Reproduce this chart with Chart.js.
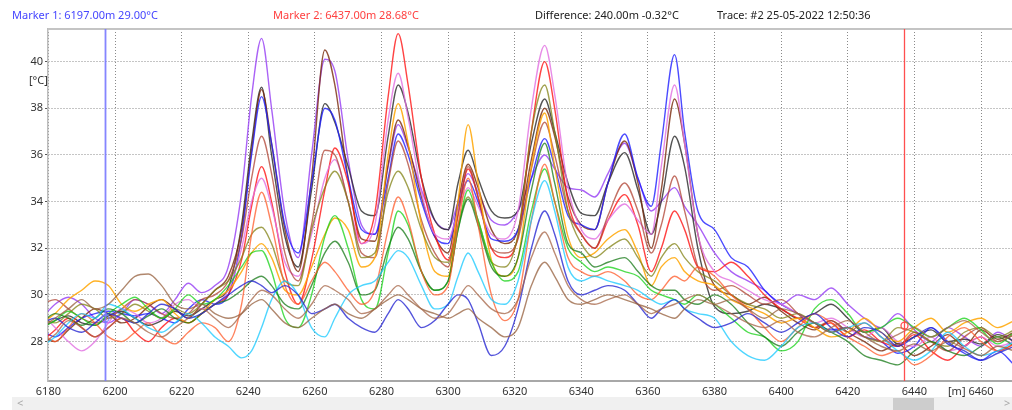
<!DOCTYPE html>
<html>
<head>
<meta charset="utf-8">
<script src="https://cdn.jsdelivr.net/npm/chart.js@4/dist/chart.umd.min.js"></script>
<style>
  html,body{margin:0;padding:0;background:#fff;width:1012px;height:410px;overflow:hidden;font-family:'Noto Sans',sans-serif;}
  #wrap{position:relative;width:1012px;height:410px;}
  #c{position:absolute;left:0;top:0;}
  .hdr{position:absolute;top:8px;font-size:11px;white-space:nowrap;line-height:14px;}
  .unit{position:absolute;font-size:11px;color:#333;white-space:nowrap;line-height:14px;}
  #sb{position:absolute;left:12px;top:397px;width:1000px;height:13px;background:#f0f0f0;}
  #thumb{position:absolute;left:893px;top:398px;width:41px;height:12px;background:#cdcdcd;}
  .arr{position:absolute;top:396px;font-size:11px;color:#a8a8a8;line-height:14px;}
</style>
</head>
<body>
<div id="wrap">
  <canvas id="c" width="1012" height="397"></canvas>
  <div class="hdr" id="h1" style="left:12px;color:#4646ff"></div>
  <div class="hdr" id="h2" style="left:273px;color:#ff4040"></div>
  <div class="hdr" id="h3" style="left:535px;color:#222"></div>
  <div class="hdr" id="h4" style="left:717px;color:#222"></div>
  <div class="unit" style="left:29px;top:73px;">[°C]</div>
  <div class="unit" style="left:948px;top:384px;">[m]</div>
  <div id="sb"></div>
  <div id="thumb"></div>
  <div class="arr" style="left:17px;">&lt;</div>
  <div class="arr" style="left:1004px;">&gt;</div>
</div>
<script>
// ---- data ----
const X = [
  6178,6182,6186,6190,6194,6198,6202,6206,6210,6214,6218,6222,
  6226,6230,6234,6238,6241,6244,6247,6251,6255,6259,6263,6266,
  6270,6274,6278,6282,6285,6288,6292,6296,6300,6303,6306,6309,
  6313,6317,6321,6325,6329,6332,6336,6340,6344,6348,6353,6357,
  6361,6364,6368,6371,6375,6380,6385,6390,6395,6400,6405,6410,
  6415,6420,6425,6430,6435,6440,6445,6450,6455,6460,6465,6470];

const X_TICKS = [6180,6200,6220,6240,6260,6280,6300,6320,6340,6360,6380,6400,6420,6440,6460];
const Y_TICKS = [28,30,32,34,36,38,40];

const MARKER_X = [6197, 6437];
const MARKER_T = [29.00, 28.68];
const TRACE = '#2 25-05-2022 12:50:36';

const purple = [
  29.0,29.6,29.9,29.6,29.0,28.8,29.2,29.8,29.6,29.2,29.8,30.5,
  30.1,30.4,31.2,34.4,38.5,41.0,38.0,33.5,31.6,36.0,40.1,39.6,
  35.8,33.0,32.6,35.5,37.3,36.3,34.5,33.2,32.8,34.0,35.2,34.4,
  33.2,33.0,33.6,35.0,36.0,35.4,34.6,34.5,34.2,35.2,36.5,35.0,
  33.6,34.0,34.6,33.8,33.0,31.8,31.0,30.6,30.2,29.6,30.0,29.8,
  30.3,29.6,29.0,28.6,29.2,28.5,28.0,28.6,28.2,27.8,28.4,28.0];
const black = [
  28.6,28.9,29.1,28.8,28.7,29.1,29.3,29.0,28.7,28.9,29.3,29.1,
  29.4,29.8,30.3,33.0,36.5,38.9,36.0,32.5,31.2,34.5,38.2,37.4,
  35.5,33.6,33.4,36.8,39.0,37.8,35.0,33.2,32.8,34.8,36.2,35.0,
  33.6,33.3,33.6,36.5,38.4,37.0,34.8,33.5,33.4,34.8,36.1,34.5,
  32.6,34.0,36.8,35.5,32.0,29.5,29.2,29.3,29.6,29.4,29.0,29.2,
  29.6,29.0,28.4,28.6,27.9,28.2,28.5,28.0,28.1,27.9,28.3,28.0];
const darkBrown = [
  28.2,28.0,28.5,29.0,29.4,29.2,28.8,29.0,29.5,29.8,29.4,29.0,
  29.6,30.2,30.8,32.8,36.2,38.8,36.5,32.8,31.0,35.0,40.5,39.0,
  35.0,32.4,32.3,35.6,37.5,36.4,34.2,32.5,31.8,34.0,35.6,34.6,
  32.8,32.2,32.8,35.8,38.0,36.8,34.2,33.0,32.8,34.8,36.6,34.8,
  32.0,34.5,38.4,36.5,32.6,30.4,30.0,29.6,29.9,29.3,28.8,28.5,
  28.9,28.4,28.0,27.6,27.9,27.4,27.8,28.3,27.8,28.5,28.1,28.4];
const blue = [
  28.5,28.2,28.6,29.0,29.2,29.3,29.2,29.1,29.2,29.0,28.8,29.4,
  29.8,29.6,30.0,32.5,36.0,38.5,36.5,33.0,31.8,34.8,38.0,37.5,
  35.0,32.8,32.6,35.0,36.9,36.0,34.0,32.5,32.2,33.8,34.9,34.0,
  32.4,32.3,32.8,35.0,36.7,35.5,33.4,33.0,32.8,34.8,36.9,35.0,
  33.8,36.5,40.3,37.0,33.6,32.8,31.6,31.2,30.2,29.6,29.2,28.8,
  28.5,28.6,28.2,28.0,27.5,27.8,28.6,28.0,27.5,27.2,27.6,27.0];
const red = [
  28.0,28.5,29.0,28.6,28.2,28.6,29.0,28.4,28.0,28.6,29.0,28.8,
  29.2,29.6,30.0,31.5,33.8,35.5,34.0,31.0,29.6,31.5,34.5,36.3,
  34.8,32.2,33.5,38.5,41.2,39.0,35.0,32.6,31.5,33.5,35.4,34.2,
  32.0,31.6,32.5,37.0,40.0,38.0,34.0,32.6,32.0,33.2,34.3,33.0,
  31.0,32.0,33.6,32.8,31.2,31.0,31.4,30.8,30.0,29.4,29.0,28.6,
  28.8,28.2,28.5,28.0,27.8,28.3,27.6,27.2,27.8,28.2,27.6,27.9];
const orange = [
  28.8,29.2,29.8,30.2,30.6,30.4,29.6,29.3,29.6,29.8,29.2,28.8,
  29.2,29.8,30.2,31.0,31.8,32.2,31.6,30.2,30.0,31.2,32.6,33.3,
  32.8,31.2,31.6,36.0,38.2,36.5,33.0,31.0,30.8,34.0,37.3,34.8,
  31.5,30.8,31.6,35.5,37.8,35.5,32.5,31.6,31.8,32.4,32.8,31.8,
  30.4,31.2,31.6,31.0,30.6,30.4,29.8,29.5,29.2,28.8,29.0,28.6,
  28.2,28.4,29.0,28.4,28.0,28.6,29.0,28.4,28.8,29.0,28.6,28.9];
const green = [
  28.6,28.9,29.3,29.0,28.7,29.2,29.6,29.9,29.4,29.0,29.4,30.0,
  29.6,29.8,30.4,31.2,31.8,31.9,31.0,29.0,28.6,30.0,32.5,33.4,
  32.0,29.8,29.4,31.8,33.6,33.0,31.0,30.2,30.6,32.8,34.5,33.2,
  31.4,30.6,31.0,33.6,35.4,34.0,32.0,31.4,31.0,31.2,31.0,30.8,
  30.2,30.0,29.8,29.6,30.0,29.6,29.0,28.4,28.2,27.6,28.0,29.4,
  29.8,29.2,28.4,28.6,29.0,28.6,28.2,28.6,29.0,28.5,27.9,28.4];
const darkGreen = [
  28.8,29.2,29.0,28.7,29.0,29.4,29.2,28.8,29.1,29.4,29.0,28.8,
  29.2,29.6,29.8,30.2,30.6,30.8,30.4,29.6,29.4,30.4,31.8,32.3,
  31.4,30.0,30.2,32.0,32.9,32.4,31.0,30.2,30.6,32.8,34.1,33.0,
  31.2,30.8,31.6,34.5,36.5,34.8,32.2,31.8,31.2,31.4,31.6,31.0,
  30.4,30.2,30.2,29.8,29.6,30.0,29.6,28.8,28.2,27.8,28.4,28.8,
  28.4,28.0,27.4,27.2,27.0,27.6,28.0,27.6,27.4,27.8,28.2,27.8];
const olive = [
  29.0,28.8,29.2,29.6,29.4,29.0,29.2,29.6,29.3,29.0,29.4,29.2,
  29.6,30.2,30.6,31.6,32.6,32.9,32.2,30.6,30.4,32.8,34.6,35.3,
  34.0,31.6,31.8,34.4,35.3,34.6,32.8,31.6,31.4,33.0,34.2,33.2,
  31.4,31.2,32.6,37.0,39.0,37.0,33.6,32.2,31.6,32.0,32.4,31.6,
  30.8,31.6,32.2,31.6,31.0,30.6,30.0,29.6,29.4,29.0,29.2,28.8,
  28.4,28.6,28.2,28.0,28.6,28.4,28.0,27.8,28.4,28.6,28.2,28.5];
const cyan = [
  27.8,28.2,28.8,29.2,29.0,29.6,29.4,29.0,28.6,28.4,28.8,29.2,
  28.8,28.2,27.8,27.3,27.6,28.6,29.8,30.6,30.0,28.6,28.2,29.0,
  30.0,30.4,30.6,31.4,31.9,31.6,30.4,29.4,29.6,30.8,31.8,31.0,
  29.8,29.6,30.6,33.2,34.9,33.6,31.2,30.6,30.8,30.6,30.4,30.2,
  29.8,29.6,29.8,29.4,29.2,29.0,28.0,27.4,27.2,27.8,28.6,28.8,
  28.4,28.6,28.8,28.2,27.6,27.2,27.6,28.4,27.8,27.4,27.6,28.0];
const pink = [
  29.2,28.6,28.0,27.6,28.0,28.8,29.4,29.2,28.8,29.0,29.6,29.8,
  29.4,29.6,30.2,32.0,34.0,35.0,33.8,31.4,30.8,32.6,35.0,35.8,
  34.0,32.2,33.0,37.5,39.5,37.6,34.4,32.6,32.4,33.6,34.6,33.8,
  32.6,32.4,33.6,38.0,40.7,38.6,34.6,32.8,32.4,33.2,33.9,33.2,
  32.6,35.5,39.0,36.5,32.6,31.0,30.6,30.2,29.8,29.6,29.2,28.8,
  29.0,28.6,28.2,28.6,28.0,27.8,28.2,27.6,27.8,28.2,27.8,28.0];
const salmon = [
  28.4,28.0,28.6,29.2,28.8,28.2,28.0,28.4,28.8,28.2,27.9,28.4,
  28.8,28.6,28.0,29.6,32.6,34.4,33.0,30.4,29.6,30.6,31.4,31.0,
  30.2,29.6,30.2,32.8,34.2,33.2,31.0,30.0,30.4,33.0,35.0,33.0,
  30.0,28.9,29.8,33.2,35.6,34.0,31.6,31.0,30.8,31.0,30.6,30.0,
  29.8,30.2,30.8,30.6,31.2,30.8,30.0,29.4,28.6,28.0,28.6,29.2,
  28.8,28.2,27.8,27.4,27.6,27.0,27.4,28.2,28.6,28.0,27.6,27.9];
const rosy = [
  29.6,29.8,29.4,29.0,28.8,29.0,29.4,29.8,29.6,29.2,29.0,29.2,
  29.8,30.0,30.6,32.4,35.0,36.8,35.2,31.8,30.6,33.0,36.2,36.0,
  34.0,31.8,31.6,34.8,36.6,35.6,33.2,31.8,31.2,33.4,35.5,34.2,
  32.0,31.8,32.4,35.4,37.4,36.0,33.6,32.6,32.0,33.4,34.8,33.6,
  31.8,33.0,35.1,33.6,31.2,30.2,30.4,30.0,29.6,29.8,29.2,28.6,
  28.9,28.4,28.8,28.2,27.8,28.4,28.0,27.6,28.2,28.6,28.0,28.3];
const tan = [
  28.6,29.0,29.4,29.8,29.4,29.6,30.2,30.8,30.9,30.4,29.6,29.4,
  29.6,29.2,29.0,29.2,29.6,29.8,29.4,28.8,28.6,29.0,29.4,29.6,
  29.2,29.0,29.4,29.8,30.0,29.8,29.4,29.2,29.0,29.2,29.4,29.0,
  28.6,28.2,28.6,30.4,31.4,30.8,29.8,29.6,29.8,30.0,29.8,29.6,
  29.4,29.2,29.0,29.4,29.8,29.6,29.8,29.4,29.0,29.4,29.2,28.8,
  28.4,28.6,28.2,27.8,27.6,27.9,27.6,28.0,27.7,27.4,27.8,27.6];
const lightBrown = [
  27.9,28.3,28.9,28.6,28.2,28.6,29.0,28.8,28.4,28.2,28.6,29.0,
  29.4,29.0,28.6,29.2,29.8,30.2,30.0,29.4,29.0,29.6,30.4,30.2,
  29.8,29.2,29.4,30.0,30.4,30.0,29.4,29.0,29.2,29.8,30.4,30.0,
  29.4,29.2,29.8,31.6,32.7,31.8,30.4,29.8,29.6,29.8,30.0,29.6,
  29.2,29.4,29.6,29.8,30.0,29.6,29.2,28.8,28.6,28.9,28.4,28.2,
  28.6,28.9,28.4,28.0,28.3,28.6,28.2,28.6,28.9,28.4,28.0,28.3];
const darkBlue = [
  28.8,29.0,28.6,28.4,28.8,29.2,29.0,28.8,29.2,29.6,29.4,29.0,
  29.2,29.6,30.0,30.4,30.6,30.4,30.1,30.4,30.0,29.2,29.4,29.6,
  29.0,28.6,28.4,29.2,29.8,29.4,28.6,28.9,29.6,30.0,29.8,28.8,
  27.4,27.8,29.4,32.0,33.6,32.6,30.6,30.0,30.2,30.4,30.2,29.6,
  29.0,29.4,29.8,29.4,29.0,28.6,28.8,29.2,28.8,28.4,28.8,29.2,
  28.6,28.2,28.6,28.4,27.8,28.2,28.6,27.9,27.6,27.2,27.5,27.8];

const SERIES = [
  ['tan', tan, 'rgba(150,95,60,0.75)'],
  ['lightBrown', lightBrown, 'rgba(165,100,70,0.75)'],
  ['darkBlue', darkBlue, 'rgba(40,40,210,0.8)'],
  ['cyan', cyan, 'rgba(20,200,255,0.75)'],
  ['salmon', salmon, 'rgba(255,90,40,0.75)'],
  ['darkGreen', darkGreen, 'rgba(20,120,20,0.75)'],
  ['green', green, 'rgba(20,210,20,0.75)'],
  ['olive', olive, 'rgba(130,130,20,0.75)'],
  ['orange', orange, 'rgba(255,165,0,0.85)'],
  ['rosy', rosy, 'rgba(175,65,50,0.75)'],
  ['pink', pink, 'rgba(225,110,225,0.8)'],
  ['red', red, 'rgba(255,20,20,0.8)'],
  ['blue', blue, 'rgba(30,30,255,0.8)'],
  ['darkBrown', darkBrown, 'rgba(120,40,10,0.8)'],
  ['black', black, 'rgba(40,40,40,0.8)'],
  ['purple', purple, 'rgba(155,70,245,0.85)']
];
const MARKER_COLORS = ['rgba(120,120,255,0.9)', 'rgba(255,70,70,0.95)'];

// ---- header text ----
document.getElementById('h1').textContent = 'Marker 1: ' + MARKER_X[0].toFixed(2) + 'm ' + MARKER_T[0].toFixed(2) + '°C';
document.getElementById('h2').textContent = 'Marker 2: ' + MARKER_X[1].toFixed(2) + 'm ' + MARKER_T[1].toFixed(2) + '°C';
document.getElementById('h3').textContent = 'Difference: ' + (MARKER_X[1]-MARKER_X[0]).toFixed(2) + 'm ' + (MARKER_T[1]-MARKER_T[0]).toFixed(2) + '°C';
document.getElementById('h4').textContent = 'Trace: ' + TRACE;

// ---- chart ----
Chart.defaults.font.family = "'Noto Sans', sans-serif";
Chart.defaults.font.size = 11;
Chart.defaults.color = '#333';

const markerPlugin = {
  id: 'markers',
  beforeDatasetsDraw(chart) {
    const {ctx, chartArea} = chart;
    ctx.save();
    ctx.strokeStyle = '#c4c4c4';
    ctx.lineWidth = 2;
    ctx.beginPath();
    ctx.moveTo(chartArea.left, chartArea.top);
    ctx.lineTo(chartArea.right, chartArea.top);
    ctx.stroke();
    ctx.restore();
  },
  afterDatasetsDraw(chart) {
    const {ctx, chartArea, scales} = chart;
    MARKER_X.forEach((mx, i) => {
      const px = Math.round(scales.x.getPixelForValue(mx)) + 0.5;
      ctx.save();
      ctx.strokeStyle = MARKER_COLORS[i];
      ctx.lineWidth = i === 0 ? 1.8 : 1.3;
      ctx.beginPath();
      ctx.moveTo(px, chartArea.top);
      ctx.lineTo(px, chartArea.bottom);
      ctx.stroke();
      ctx.lineWidth = 1.3;
      ctx.beginPath();
      ctx.arc(px, scales.y.getPixelForValue(MARKER_T[i]), 3.5, 0, Math.PI * 2);
      ctx.stroke();
      ctx.restore();
    });
  }
};

new Chart(document.getElementById('c'), {
  type: 'line',
  data: {
    datasets: SERIES.map(([name, vals, col]) => ({
      label: name,
      data: X.map((x, i) => ({x: x, y: vals[i]})),
      borderColor: col,
      backgroundColor: col,
      borderWidth: 1.4,
      pointRadius: 0,
      fill: false,
      cubicInterpolationMode: 'monotone'
    }))
  },
  options: {
    responsive: false,
    animation: false,
    devicePixelRatio: 1,
    layout: {padding: {left: 0, right: 0, top: 29, bottom: 0}},
    plugins: {legend: {display: false}, tooltip: {enabled: false}},
    scales: {
      x: {
        type: 'linear',
        min: 6179.88,
        max: 6469.3,
        afterBuildTicks: (s) => { s.ticks = X_TICKS.map(v => ({value: v})); },
        afterFit: (s) => { s.height = 16; },
        ticks: {padding: 4, color: '#333', maxRotation: 0, autoSkip: false, callback: (v) => String(v)},
        grid: {color: '#8a8a8a', drawTicks: false, lineWidth: 1},
        border: {display: true, color: '#a8a8a8', width: 2, dash: [1, 2]}
      },
      y: {
        type: 'linear',
        min: 26.31,
        max: 41.4,
        afterBuildTicks: (s) => { s.ticks = Y_TICKS.map(v => ({value: v})); },
        afterFit: (s) => { s.width = 48; },
        ticks: {padding: 2, color: '#333', callback: (v) => String(v)},
        grid: {color: '#8a8a8a', lineWidth: 1, tickLength: 3, tickColor: '#555', tickBorderDash: []},
        border: {display: true, color: '#bdbdbd', width: 1.5, dash: [1, 2]}
      }
    }
  },
  plugins: [markerPlugin]
});
</script>
</body>
</html>
